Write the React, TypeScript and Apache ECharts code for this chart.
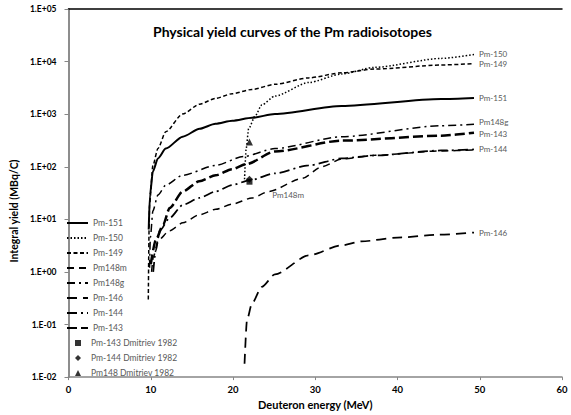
import React, { useEffect, useRef } from "react";
import * as echarts from "echarts";

// ---- Data ----
const pm151E = [9.75, 9.9, 10.26, 10.87, 11.83, 13.88, 15.94, 17.87, 19.92, 22.3, 25.1, 33.2, 45.3, 49.3];
const pm151Y = [6.4, 29, 82, 144, 222, 373, 528, 656, 748, 852, 1010, 1430, 1940, 2030];

const pm150E = [21.4, 21.6, 21.9, 22.7, 23.5, 25.1, 29.2, 33.2, 37.2, 45.3, 49.3];
const pm150Y = [58, 222, 528, 930, 1500, 2210, 4000, 5800, 7760, 11500, 13600];

const pm149E = [9.7, 9.8, 9.85, 10.26, 10.87, 11.83, 13.88, 15.94, 17.87, 19.92, 22.3, 25.1, 29.2, 33.2, 37.2, 45.3, 49.3];
const pm149Y = [0.3, 7, 19, 106, 222, 465, 1010, 1550, 2000, 2450, 2950, 3700, 4900, 6100, 7200, 8600, 9200];

const pm148mE = [10.1, 10.3, 10.9, 12.3, 13.9, 15.9, 17.9, 19.9, 22.3, 24.4, 28.4, 30.8, 33.2, 37.2, 45.3, 49.3];
const pm148mY = [1.0, 1.9, 4, 6.1, 8.6, 12.2, 15.5, 19.5, 25.5, 34, 60, 100, 140, 165, 200, 210];

const pm148gE = [9.85, 9.95, 10.26, 10.87, 11.83, 13.88, 17.87, 21.3, 25.1, 33.2, 45.3, 49.3];
const pm148gY = [1.2, 4.5, 14.5, 29, 45, 69, 106, 157, 222, 373, 603, 640];

const pm146E = [21.4, 21.7, 22.3, 23.5, 25.1, 29.2, 33.2, 35.6, 40, 45, 49.3];
const pm146Y = [0.018, 0.123, 0.25, 0.52, 0.9, 2.06, 3.2, 3.8, 4.5, 5.1, 5.6];

const pm144E = [10.3, 10.6, 11.1, 12.3, 13.9, 15.9, 17.9, 19.9, 22.0, 25.1, 29.2, 33.2, 37.2, 45.3, 49.3];
const pm144Y = [1.0, 2.5, 6.1, 10.7, 18.8, 25.5, 34, 45, 55, 75, 106, 144, 164, 204, 213];

const pm143E = [10.0, 10.6, 11.5, 12.3, 13.9, 15.9, 17.9, 19.9, 21.6, 25.1, 33.2, 45.3, 49.3];
const pm143Y = [1.4, 4, 7.9, 16.5, 34, 53, 69, 90, 112, 195, 314, 390, 445];

const dm143E = [22.0];
const dm143Y = [52];
const dm144E = [22.0];
const dm144Y = [58];
const dm148E = [22.0];
const dm148Y = [295];

const pm148mLabelIndex = 9; // point that carries the "Pm148m" label

const lineNames = ["Pm-151", "Pm-150", "Pm-149", "Pm148m", "Pm148g", "Pm-146", "Pm-144", "Pm-143"];
const markerNames = ["Pm-143 Dmitriev 1982", "Pm-144 Dmitriev 1982", "Pm148 Dmitriev 1982"];

const titleText = "Physical yield curves of the Pm radioisotopes";
const xName = "Deuteron energy (MeV)";
const yName = "Integral yield (MBq/C)";

const FONT = "Lato";

const pair = (xs: number[], ys: number[]) => xs.map((x, i) => [x, ys[i]]);

const logLabel = (v: number) => {
  const e = Math.round(Math.log10(v));
  return "1.E" + (e < 0 ? "-" : "+") + String(Math.abs(e)).padStart(2, "0");
};

export default function App() {
  const ref = useRef<HTMLDivElement>(null);
  useEffect(() => {
    if (!ref.current) return;
    const chart = echarts.init(ref.current, undefined, { renderer: "svg" });

    const endLabel = (dy = 0) => ({
      show: true,
      formatter: "{a}",
      distance: 5,
      offset: [0, dy],
      fontSize: 8,
      fontFamily: FONT,
      color: "#595959",
    });

    const lineSeries = (name: string, data: any[], type: any, width: number, end: any) => ({
      name,
      type: "line",
      data,
      symbol: "circle",
      symbolSize: 0.01,
      showSymbol: true,
      smooth: 0.25,
      smoothMonotone: "x",
      lineStyle: { color: "#000", width, type },
      itemStyle: { color: "#000", borderWidth: 0 },
      label: { show: false },
      endLabel: end,
      z: 2,
    });

    const pm148mData: any[] = pair(pm148mE, pm148mY).map((p, i) =>
      i === pm148mLabelIndex
        ? {
            value: p,
            label: {
              show: true,
              formatter: "Pm148m",
              position: "right",
              distance: 3,
              offset: [0, 4],
              fontSize: 8,
              fontFamily: FONT,
              color: "#595959",
            },
          }
        : p
    );

    const scatter = (name: string, data: number[][], symbol: string, size: number) => ({
      name,
      type: "scatter",
      data,
      symbol,
      symbolSize: size,
      itemStyle: { color: "#000" },
      z: 5,
    });

    const legendText = { fontSize: 8.5, lineHeight: 10, color: "#595959", fontFamily: FONT };

    const option: any = {
      animation: false,
      title: {
        text: titleText,
        left: 153,
        top: 24,
        padding: 0,
        textStyle: { fontFamily: FONT, fontWeight: "bold", fontSize: 14, color: "#000" },
      },
      grid: { left: 65, right: 9, top: 9, bottom: 34 },
      legend: [
        {
          orient: "vertical",
          left: 66,
          top: 218,
          padding: 0,
          itemWidth: 21,
          itemHeight: 6,
          itemGap: 5,
          textStyle: legendText,
          data: lineNames.map((n) => ({ name: n, itemStyle: { opacity: 0 } })),
        },
        {
          orient: "vertical",
          left: 75,
          top: 338,
          padding: 0,
          itemWidth: 6,
          itemHeight: 6,
          itemGap: 5,
          textStyle: { ...legendText, padding: [0, 0, 0, 5] },
          data: markerNames,
        },
      ],
      xAxis: [
        {
          type: "value",
          min: 0,
          max: 60,
          interval: 10,
          axisLine: { lineStyle: { color: "#868686", width: 1.5 } },
          axisTick: { show: true, length: 3, lineStyle: { color: "#868686" } },
          splitLine: { show: false },
          axisLabel: { fontFamily: FONT, fontWeight: "bold", fontSize: 9.5, color: "#000", margin: 7 },
          name: xName,
          nameLocation: "middle",
          nameGap: 19,
          nameTextStyle: { fontFamily: FONT, fontWeight: "bold", fontSize: 11, color: "#000" },
        },
        {
          type: "value",
          position: "top",
          min: 0,
          max: 60,
          interval: 10,
          axisLine: { show: true, lineStyle: { color: "#000", width: 1.5 } },
          axisTick: { show: false },
          axisLabel: { show: false },
          splitLine: { show: false },
        },
      ],
      yAxis: [
        {
          type: "log",
          logBase: 10,
          min: 0.01,
          max: 100000,
          axisLine: { show: true, lineStyle: { color: "#868686", width: 1.5 } },
          axisTick: { show: true, length: 4, lineStyle: { color: "#868686" } },
          minorTick: { show: false },
          splitLine: { show: false },
          axisLabel: { fontFamily: FONT, fontWeight: "bold", fontSize: 8.5, color: "#000", margin: 12, formatter: logLabel },
          name: yName,
          nameLocation: "middle",
          nameGap: 45,
          nameTextStyle: { fontFamily: FONT, fontWeight: "bold", fontSize: 10.5, color: "#000", padding: [0, 36, 0, 0] },
        },
        {
          type: "log",
          logBase: 10,
          min: 0.01,
          max: 100000,
          position: "right",
          axisLine: { show: true, lineStyle: { color: "#868686", width: 1.5 } },
          axisTick: { show: false },
          axisLabel: { show: false },
          splitLine: { show: false },
        },
      ],
      series: [
        lineSeries("Pm-151", pair(pm151E, pm151Y), "solid", 2, endLabel()),
        lineSeries("Pm-150", pair(pm150E, pm150Y), [1.5, 2], 1.5, endLabel(-1)),
        lineSeries("Pm-149", pair(pm149E, pm149Y), [4, 2.5], 1.5, endLabel(1)),
        lineSeries("Pm148m", pm148mData, [7, 5], 1.5, { show: false }),
        lineSeries("Pm148g", pair(pm148gE, pm148gY), [8, 4, 2, 4], 1.5, endLabel(-2)),
        lineSeries("Pm-146", pair(pm146E, pm146Y), [10, 6], 1.75, endLabel()),
        lineSeries("Pm-144", pair(pm144E, pm144Y), [10, 4, 2, 4], 1.75, endLabel()),
        lineSeries("Pm-143", pair(pm143E, pm143Y), [10, 4], 2.5, endLabel(1)),
        scatter(markerNames[0], pair(dm143E, dm143Y), "rect", 6),
        scatter(markerNames[1], pair(dm144E, dm144Y), "diamond", 7),
        scatter(markerNames[2], pair(dm148E, dm148Y), "triangle", 7),
      ],
    };

    chart.setOption(option);
    return () => chart.dispose();
  }, []);

  return <div ref={ref} style={{ width: 571, height: 415, position: "absolute", left: 0, top: 0, background: "#fff" }} />;
}
